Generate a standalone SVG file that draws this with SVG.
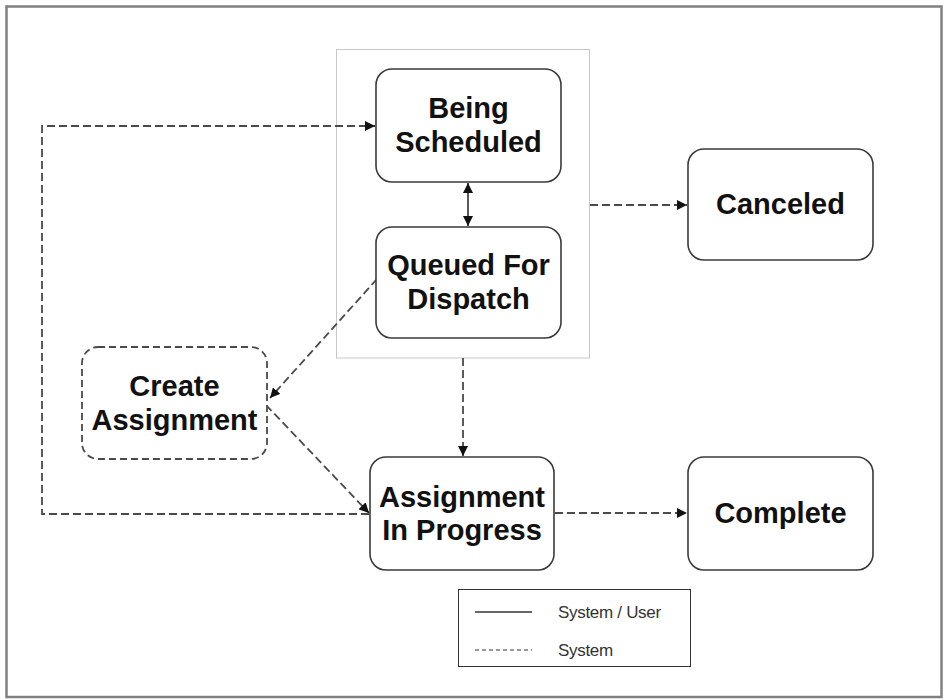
<svg xmlns="http://www.w3.org/2000/svg" width="944" height="700" viewBox="0 0 944 700">
<style>
.node{fill:#fff;stroke:#3a3a3a;stroke-width:1.6}
.dnode{fill:#fff;stroke:#4a4a4a;stroke-width:1.8;stroke-dasharray:7 4}
.lbl{font-family:"Liberation Sans",Arial,sans-serif;font-weight:bold;font-size:29px;fill:#111;text-anchor:middle}
.leg{font-family:"Liberation Sans",Arial,sans-serif;font-size:17px;fill:#333;letter-spacing:-0.3px}
.dash{fill:none;stroke:#4a4a4a;stroke-width:1.8;stroke-dasharray:8 4}
.solid{fill:none;stroke:#222;stroke-width:1.5}
</style>
<defs>
<marker id="ah" viewBox="0 0 10 10" refX="10" refY="5" markerWidth="10" markerHeight="10" markerUnits="userSpaceOnUse" orient="auto-start-reverse">
<path d="M0,0 L10,5 L0,10 z" fill="#111"/>
</marker>
</defs>
<rect x="0" y="0" width="944" height="700" fill="#fff"/>
<rect x="6.5" y="6.5" width="935" height="690.5" fill="none" stroke="#808080" stroke-width="2.5"/>
<g id="container">
<rect x="336.5" y="49.5" width="253" height="308.5" fill="none" stroke="#c8c8c8" stroke-width="1"/>
</g>
<g id="connectors">
<line class="solid" x1="468" y1="183" x2="468" y2="226" marker-start="url(#ah)" marker-end="url(#ah)"/>
<line class="dash" x1="590" y1="205" x2="687" y2="205" marker-end="url(#ah)"/>
<line class="dash" x1="377" y1="279" x2="270" y2="398" marker-end="url(#ah)"/>
<line class="dash" x1="266" y1="405" x2="369" y2="513" marker-end="url(#ah)"/>
<path class="dash" d="M369,514 L42,514 L42,126 L375,126" marker-end="url(#ah)"/>
<line class="dash" x1="463" y1="358" x2="463" y2="456" marker-end="url(#ah)"/>
<line class="dash" x1="555" y1="513" x2="687" y2="513" marker-end="url(#ah)"/>
</g>
<g id="being-scheduled">
<rect class="node" x="376" y="69" width="185" height="113" rx="16"/>
<text class="lbl" x="468.5" y="118">Being</text>
<text class="lbl" x="468.5" y="152">Scheduled</text>
</g>
<g id="queued-for-dispatch">
<rect class="node" x="376" y="227" width="185" height="111" rx="16"/>
<text class="lbl" x="468.5" y="275">Queued For</text>
<text class="lbl" x="468.5" y="309">Dispatch</text>
</g>
<g id="canceled">
<rect class="node" x="688" y="149" width="185" height="111" rx="16"/>
<text class="lbl" x="780.5" y="214">Canceled</text>
</g>
<g id="create-assignment">
<rect class="dnode" x="82" y="347" width="185" height="112" rx="16"/>
<text class="lbl" x="174.5" y="396">Create</text>
<text class="lbl" x="174.5" y="430">Assignment</text>
</g>
<g id="assignment-in-progress">
<rect class="node" x="370" y="457" width="184" height="113" rx="16"/>
<text class="lbl" x="462" y="507">Assignment</text>
<text class="lbl" x="462" y="540">In Progress</text>
</g>
<g id="complete">
<rect class="node" x="688" y="457" width="185" height="113" rx="16"/>
<text class="lbl" x="780.5" y="523">Complete</text>
</g>
<g id="legend">
<rect x="458.5" y="589.5" width="232" height="77" fill="#fff" stroke="#333" stroke-width="1"/>
<line x1="475" y1="612" x2="532" y2="612" stroke="#333" stroke-width="1.5"/>
<line x1="475" y1="650" x2="532" y2="650" stroke="#333" stroke-width="1" stroke-dasharray="4 3"/>
<text class="leg" x="558" y="618">System / User</text>
<text class="leg" x="558" y="656">System</text>
</g>
</svg>
